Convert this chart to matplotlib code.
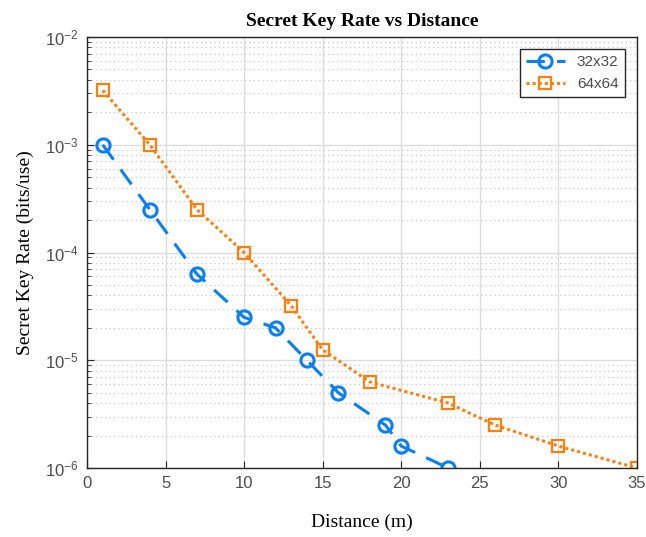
import numpy as np
import matplotlib.pyplot as plt
from matplotlib.ticker import LogLocator, NullFormatter

plt.rcParams['font.family'] = ['Liberation Sans', 'DejaVu Sans']
plt.rcParams['mathtext.fontset'] = 'custom'
plt.rcParams['mathtext.rm'] = 'Liberation Sans'
plt.rcParams['mathtext.it'] = 'Liberation Sans'
plt.rcParams['mathtext.default'] = 'regular'

d32 = [1, 4, 7, 10, 12, 14, 16, 19, 20, 23]
skr32 = [1e-3, 2.5e-4, 6.3e-5, 2.5e-5, 2e-5, 1e-5, 5e-6, 2.5e-6, 1.6e-6, 1e-6]
d64 = [1, 4, 7, 10, 13, 15, 18, 23, 26, 30, 35]
skr64 = [3.2e-3, 1e-3, 2.5e-4, 1e-4, 3.2e-5, 1.25e-5, 6.3e-6, 4e-6, 2.5e-6, 1.6e-6, 1e-6]

fig = plt.figure(figsize=(6.46, 5.37), dpi=100)
ax = fig.add_axes([0.1347, 0.1285, 0.851, 0.8025])

ax.semilogy(d32, skr32, color='#0a7ff0', ls=(0, (6, 4)), lw=2.2, marker='o',
            ms=9.5, mfc='none', mew=2.2, label='32x32')
ax.semilogy(d64, skr64, color='#ff7f0e', ls=(0, (1, 1)), lw=2.2, marker='s',
            ms=8, mfc='none', mew=1.6, label='64x64')

ax.set_xlim(0, 35)
ax.set_ylim(1e-6, 1e-2)
ax.set_xticks(np.arange(0, 36, 5))
ax.yaxis.set_major_locator(LogLocator(base=10, numticks=10))
ax.yaxis.set_minor_locator(LogLocator(base=10, subs=np.arange(2, 10), numticks=20))
ax.yaxis.set_minor_formatter(NullFormatter())

ax.grid(True, which='major', color='#dcdcdc', lw=1.0, ls='-')
ax.grid(True, which='minor', axis='y', color='#c8c8c8', lw=0.9, ls=(0, (1, 2.5)))
ax.set_axisbelow(True)

for s in ax.spines.values():
    s.set_color('#262626')
    s.set_linewidth(1.0)
ax.tick_params(which='both', direction='in', colors='#262626', labelcolor='#4d4d4d',
               labelsize=12, top=False, right=False)
ax.tick_params(which='minor', length=3)
ax.tick_params(which='major', length=5, pad=6)

ax.set_title('Secret Key Rate vs Distance', fontfamily='Liberation Serif',
             fontweight='bold', fontsize=14, pad=8)
ax.set_xlabel('Distance (m)', fontfamily='Liberation Serif', fontsize=14, labelpad=16)
ax.set_ylabel('Secret Key Rate (bits/use)', fontfamily='Liberation Serif', fontsize=14, labelpad=8)

leg = ax.legend(loc='upper right', fontsize=11, fancybox=False, framealpha=1,
                edgecolor='#262626', handlelength=2.5, borderaxespad=0.8)
for t in leg.get_texts():
    t.set_color('#4d4d4d')

fig.savefig('out.png', dpi=100)
